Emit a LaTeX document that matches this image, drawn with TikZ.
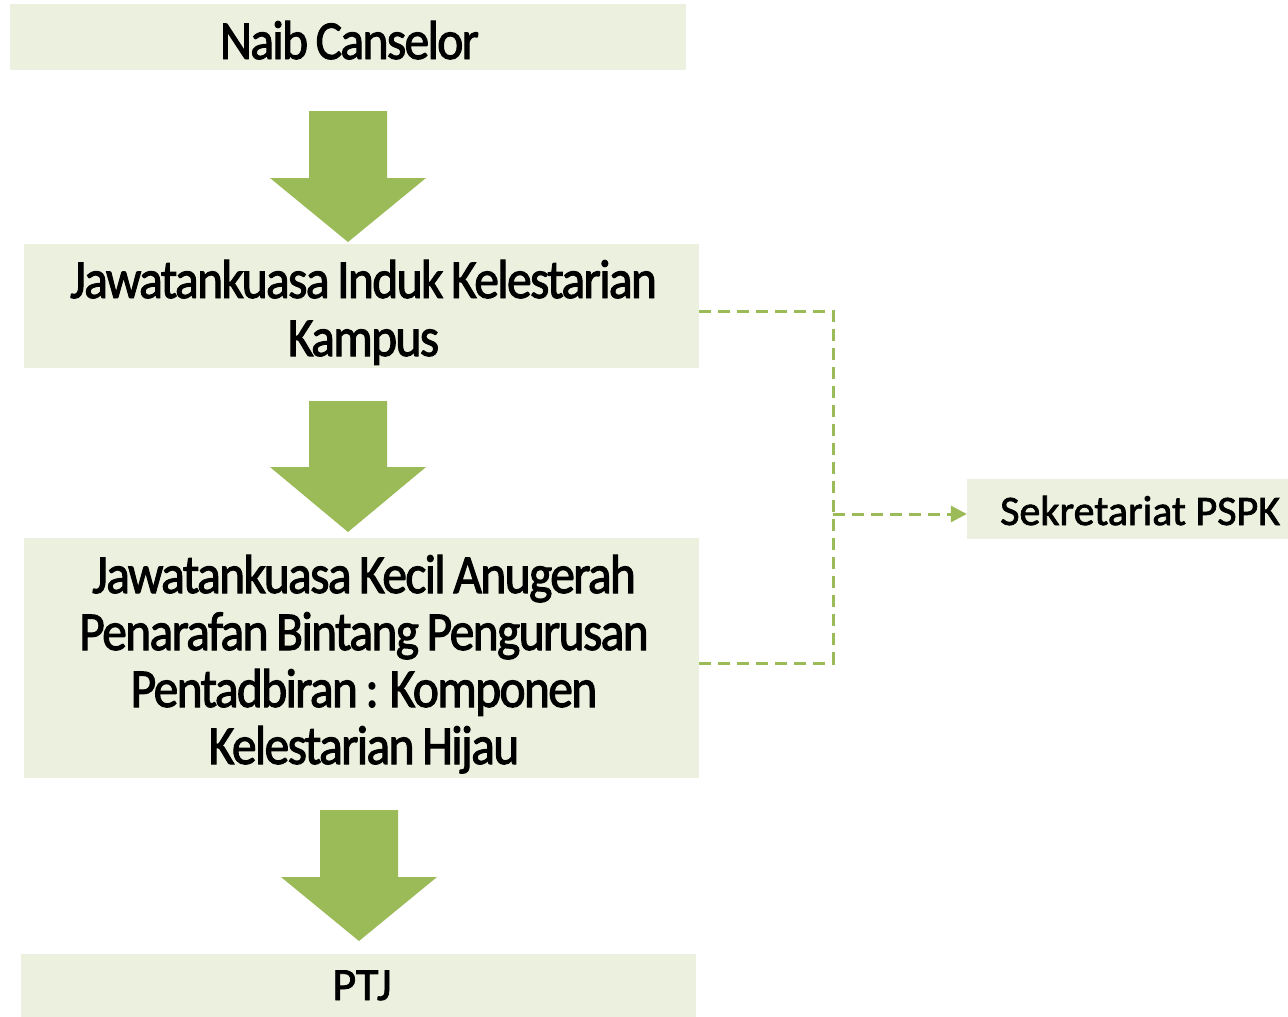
\documentclass[tikz,border=0pt]{standalone}
\usepackage{fontspec}
\setmainfont{Carlito}[FakeStretch=0.9,LetterSpace=-3,FakeBold=1.8,WordSpace=0.8]
\newfontfamily\plainfont{Carlito}[FakeBold=1.8]
\usetikzlibrary{arrows.meta}
\definecolor{boxfill}{HTML}{EBF1DE}
\definecolor{leaf}{HTML}{9BBB59}
\tikzset{
  box/.style={fill=boxfill, draw=none, inner sep=0pt},
  txt/.style={inner sep=0pt, anchor=base, font=\fontsize{55}{58}\selectfont},
  smalltxt/.style={inner sep=0pt, anchor=base, font=\plainfont\fontsize{42}{50}\selectfont},
  blockarrow/.style={fill=leaf, draw=none},
  dashline/.style={draw=leaf, line width=3pt, dash pattern=on 12pt off 7pt}
}
\begin{document}
\begin{tikzpicture}[x=1pt,y=-1pt]
\useasboundingbox (0,0) rectangle (1288,1017);
\node[box, minimum width=676pt, minimum height=66pt] (nc) at (348,37) {};
\node[box, minimum width=675pt, minimum height=124pt] (jikk) at (361.5,306) {};
\node[box, minimum width=675pt, minimum height=240pt] (jkk) at (361.5,658) {};
\node[box, minimum width=675pt, minimum height=64pt] (ptj) at (358.5,986) {};
\node[box, minimum width=321pt, minimum height=60pt] (sek) at (1127.5,509) {};
% texts
\node[txt] (nct) at (349.5,59) {Naib Canselor};
\node[txt] (jikk1) at (363.5,298) {Jawatankuasa Induk Kelestarian};
\node[txt] (jikk2) at (363.5,356) {Kampus};
\node[txt] (jkk1) at (364,593) {Jawatankuasa Kecil Anugerah};
\node[txt] (jkk2) at (364,650) {Penarafan Bintang Pengurusan};
\node[txt] (jkk3) at (364,707) {Pentadbiran : Komponen};
\node[txt] (jkk4) at (364,764) {Kelestarian Hijau};
\node[smalltxt, font=\plainfont\fontsize{46}{50}\selectfont] (ptjt) at (362,1000) {PTJ};
\node[smalltxt, anchor=base west] (sekt) at (1000,525) {Sekretariat PSPK};
% block arrows
\fill[blockarrow] (309,111)--(387,111)--(387,178)--(426,178)--(348,242)--(270,178)--(309,178)--cycle;
\fill[blockarrow] (309,401)--(387,401)--(387,467)--(426,467)--(348,532)--(270,467)--(309,467)--cycle;
\fill[blockarrow] (320,810)--(398,810)--(398,877)--(437,877)--(359,941)--(281,877)--(320,877)--cycle;
% dashed connectors
\coordinate (bus) at (833,514);
\draw[dashline] ([yshift=-5pt]jikk.east) -| (bus) |- ([yshift=-5pt]jkk.east);
\draw[dashline, -{Triangle[length=16pt,width=16pt]}] (bus) -- (sek.west |- bus);
\end{tikzpicture}
\end{document}
